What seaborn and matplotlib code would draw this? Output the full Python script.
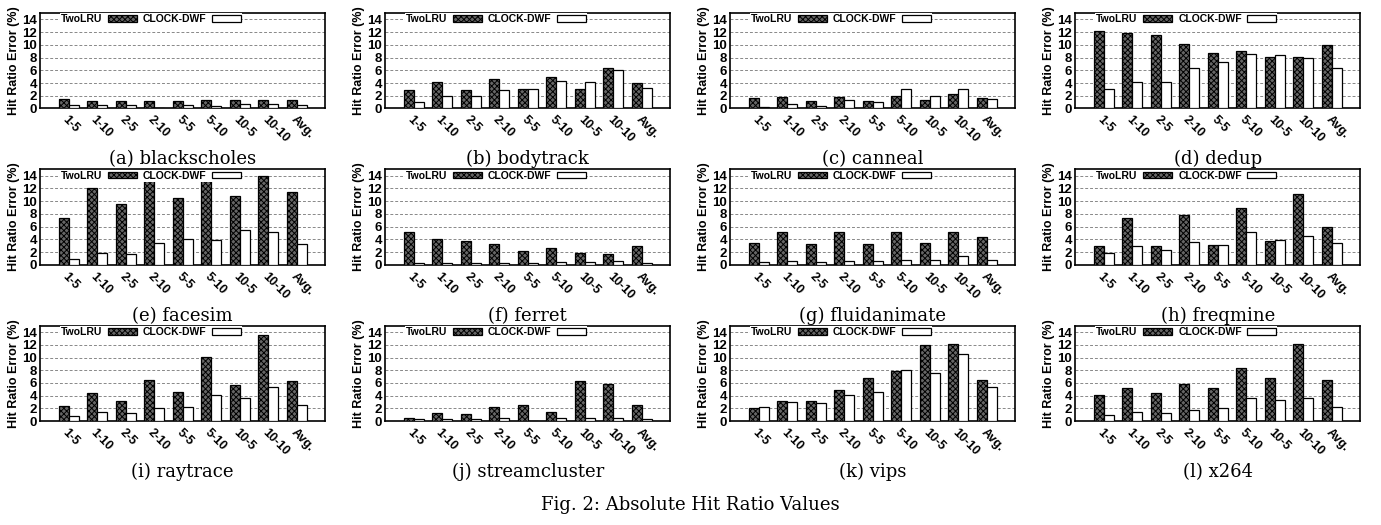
import pandas as pd
import matplotlib
matplotlib.use('Agg')
import matplotlib.pyplot as plt
import seaborn as sns

# configurations on the x axis
configs = ['1-5', '1-10', '2-5', '2-10', '5-5', '5-10', '10-5', '10-10', 'Avg.']
policies = ['TwoLRU', 'CLOCK-DWF']

# hit ratio error (%)
blackscholes_twolru = [1.5, 1.2, 1.2, 1.2, 1.2, 1.4, 1.3, 1.3, 1.3]
blackscholes_clock = [0.5, 0.6, 0.5, 0.1, 0.5, 0.4, 0.7, 0.7, 0.5]
bodytrack_twolru = [2.9, 4.2, 2.9, 4.7, 3.1, 5.0, 3.1, 6.3, 4.0]
bodytrack_clock = [1.0, 2.0, 1.9, 2.9, 3.1, 4.3, 4.1, 6.1, 3.2]
canneal_twolru = [1.7, 1.8, 1.2, 1.8, 1.2, 2.0, 1.3, 2.3, 1.7]
canneal_clock = [0.2, 0.7, 0.4, 1.3, 1.0, 3.1, 2.0, 3.1, 1.5]
dedup_twolru = [12.2, 11.9, 11.5, 10.2, 8.8, 9.1, 8.1, 8.1, 10.0]
dedup_clock = [3.1, 4.2, 4.1, 6.4, 7.3, 8.6, 8.4, 8.0, 6.3]
facesim_twolru = [7.3, 12.1, 9.6, 13.5, 10.5, 14.3, 10.8, 13.9, 11.5]
facesim_clock = [0.9, 1.8, 1.7, 3.4, 4.1, 3.9, 5.5, 5.2, 3.3]
ferret_twolru = [5.1, 4.0, 3.8, 3.2, 2.2, 2.6, 1.9, 1.7, 3.0]
ferret_clock = [0.2, 0.2, 0.2, 0.3, 0.3, 0.5, 0.4, 0.6, 0.3]
fluidanimate_twolru = [3.4, 5.1, 3.3, 5.1, 3.3, 5.2, 3.5, 5.2, 4.3]
fluidanimate_clock = [0.5, 0.6, 0.5, 0.6, 0.6, 0.8, 0.8, 1.3, 0.7]
freqmine_twolru = [2.9, 7.4, 2.9, 7.8, 3.1, 9.0, 3.7, 11.2, 6.0]
freqmine_clock = [1.9, 2.9, 2.3, 3.6, 3.1, 5.1, 3.9, 4.5, 3.4]
raytrace_twolru = [2.3, 4.4, 3.1, 6.5, 4.6, 10.1, 5.7, 13.5, 6.3]
raytrace_clock = [0.8, 1.4, 1.2, 2.1, 2.2, 4.1, 3.7, 5.3, 2.6]
streamcluster_twolru = [0.5, 1.2, 1.1, 2.2, 2.5, 1.4, 6.3, 5.9, 2.6]
streamcluster_clock = [0.3, 0.3, 0.3, 0.5, 0.0, 0.5, 0.5, 0.5, 0.3]
vips_twolru = [2.0, 3.2, 3.2, 4.9, 6.8, 7.9, 12.0, 12.2, 6.5]
vips_clock = [2.2, 3.0, 2.8, 4.1, 4.5, 8.0, 7.5, 10.6, 5.4]
x264_twolru = [4.1, 5.2, 4.4, 5.9, 5.2, 8.4, 6.8, 12.1, 6.5]
x264_clock = [1.0, 1.4, 1.2, 1.8, 2.0, 3.7, 3.3, 3.7, 2.2]

panels = [
    ('(a) blackscholes', blackscholes_twolru, blackscholes_clock),
    ('(b) bodytrack', bodytrack_twolru, bodytrack_clock),
    ('(c) canneal', canneal_twolru, canneal_clock),
    ('(d) dedup', dedup_twolru, dedup_clock),
    ('(e) facesim', facesim_twolru, facesim_clock),
    ('(f) ferret', ferret_twolru, ferret_clock),
    ('(g) fluidanimate', fluidanimate_twolru, fluidanimate_clock),
    ('(h) freqmine', freqmine_twolru, freqmine_clock),
    ('(i) raytrace', raytrace_twolru, raytrace_clock),
    ('(j) streamcluster', streamcluster_twolru, streamcluster_clock),
    ('(k) vips', vips_twolru, vips_clock),
    ('(l) x264', x264_twolru, x264_clock),
]

sns.set_style('white')
plt.rcParams['font.family'] = ['Liberation Sans', 'DejaVu Sans']
plt.rcParams['hatch.linewidth'] = 0.7
plt.rcParams['text.color'] = 'black'
plt.rcParams['axes.labelcolor'] = 'black'
plt.rcParams['xtick.color'] = 'black'
plt.rcParams['ytick.color'] = 'black'

fig, axes = plt.subplots(3, 4, figsize=(13.81, 5.25), dpi=100)
plt.subplots_adjust(left=0.029, right=0.985, top=0.975, bottom=0.198,
                    wspace=0.21, hspace=0.64)

for ax, (caption, twolru, clock) in zip(axes.flat, panels):
    df = pd.DataFrame({
        'config': configs * 2,
        'error': twolru + clock,
        'policy': ['TwoLRU'] * len(configs) + ['CLOCK-DWF'] * len(configs),
    })
    sns.barplot(data=df, x='config', y='error', hue='policy', hue_order=policies,
                palette={'TwoLRU': '#666666', 'CLOCK-DWF': 'white'},
                width=0.7, gap=0, edgecolor='black', linewidth=0.9,
                legend=False, ax=ax, zorder=3)
    for bar in ax.containers[0]:
        bar.set_hatch('xxxxxx')

    ax.set_xlim(-1, 9)
    ax.set_ylim(0, 15)
    ax.set_yticks(range(0, 15, 2))
    ax.set_yticklabels([str(v) for v in range(0, 15, 2)], fontsize=9.5, fontweight='bold')
    ax.set_xticks(range(len(configs)))
    ax.set_xticklabels(configs, rotation=-45, ha='left', va='top',
                       rotation_mode='anchor', fontsize=9, fontweight='bold')
    ax.tick_params(axis='x', length=0, pad=4)
    ax.tick_params(axis='y', length=3, direction='in', pad=2)
    for v in range(2, 15, 2):
        ax.axhline(v, color='#888888', linestyle=(0, (3, 2)), linewidth=0.7, zorder=1)
    for s in ax.spines.values():
        s.set_linewidth(1.2)
        s.set_color('black')
    ax.set_xlabel('')
    ax.set_ylabel('Hit Ratio Error (%)', fontsize=9, fontweight='bold', labelpad=2)

    leg = ax.legend([ax.containers[0][0], ax.containers[1][0]],
                    policies, ncol=2, markerfirst=False, loc='center left',
                    bbox_to_anchor=(0.07, 14 / 15), bbox_transform=ax.transAxes,
                    frameon=True, fancybox=False, edgecolor='none', framealpha=1,
                    handlelength=2.8, handleheight=0.6, handletextpad=0.5,
                    columnspacing=0.6, borderpad=0.1, borderaxespad=0,
                    prop={'size': 7.5, 'weight': 'bold'})
    leg.set_zorder(5)

    pos = ax.get_position()
    fig.text((pos.x0 + pos.x1) / 2, pos.y0 - 0.097, caption, ha='center', va='center',
             fontsize=13, family='DejaVu Serif')

fig.text(0.5, 0.038, 'Fig. 2: Absolute Hit Ratio Values', ha='center', va='center',
         fontsize=13, family='DejaVu Serif')

plt.savefig('out.png', dpi=100)
